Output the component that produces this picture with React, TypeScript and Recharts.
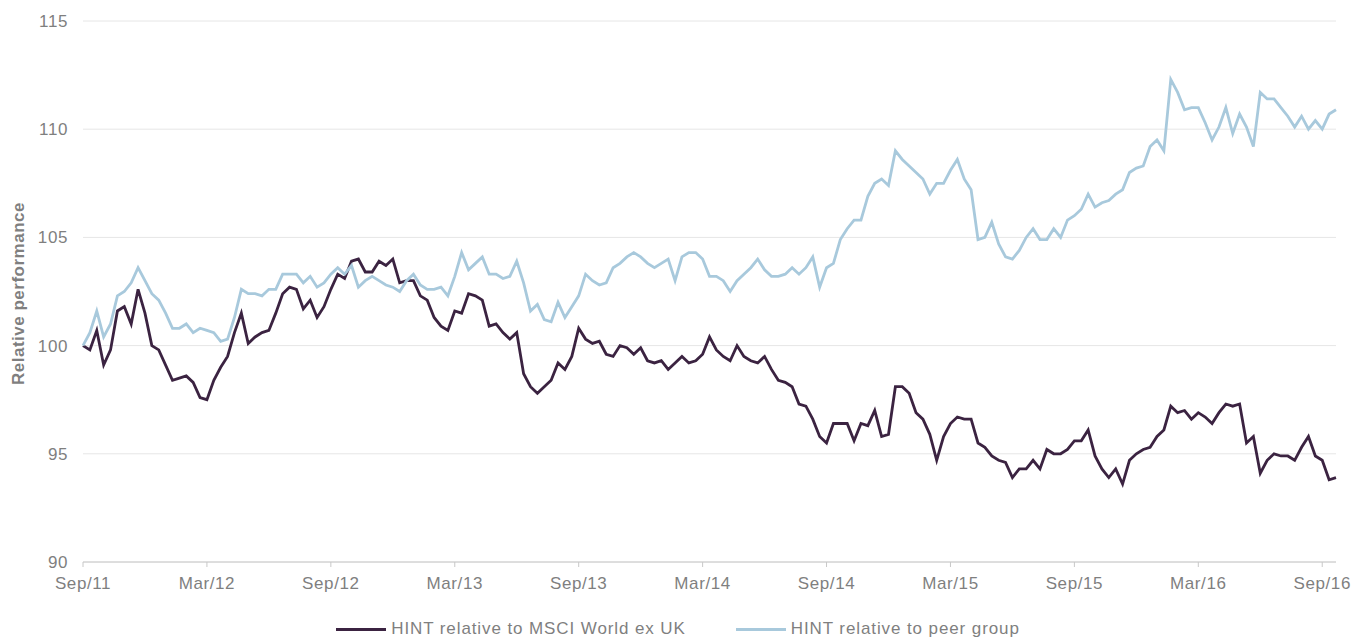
import {
  CartesianGrid,
  Legend,
  Line,
  LineChart,
  XAxis,
  YAxis,
} from "recharts";

// one point every third of a month, Sep/11 onwards
const msciWorld = [
  100.0, 99.8, 100.7, 99.1, 99.8, 101.6, 101.8, 101.0, 102.6, 101.5,
  100.0, 99.8, 99.1, 98.4, 98.5, 98.6, 98.3, 97.6, 97.5, 98.4,
  99.0, 99.5, 100.6, 101.5, 100.1, 100.4, 100.6, 100.7, 101.5, 102.4,
  102.7, 102.6, 101.7, 102.1, 101.3, 101.8, 102.6, 103.3, 103.1, 103.9,
  104.0, 103.4, 103.4, 103.9, 103.7, 104.0, 102.9, 103.0, 103.0, 102.3,
  102.1, 101.3, 100.9, 100.7, 101.6, 101.5, 102.4, 102.3, 102.1, 100.9,
  101.0, 100.6, 100.3, 100.6, 98.7, 98.1, 97.8, 98.1, 98.4, 99.2,
  98.9, 99.5, 100.8, 100.3, 100.1, 100.2, 99.6, 99.5, 100.0, 99.9,
  99.6, 99.9, 99.3, 99.2, 99.3, 98.9, 99.2, 99.5, 99.2, 99.3,
  99.6, 100.4, 99.8, 99.5, 99.3, 100.0, 99.5, 99.3, 99.2, 99.5,
  98.9, 98.4, 98.3, 98.1, 97.3, 97.2, 96.6, 95.8, 95.5, 96.4,
  96.4, 96.4, 95.6, 96.4, 96.3, 97.0, 95.8, 95.9, 98.1, 98.1,
  97.8, 96.9, 96.6, 95.9, 94.7, 95.8, 96.4, 96.7, 96.6, 96.6,
  95.5, 95.3, 94.9, 94.7, 94.6, 93.9, 94.3, 94.3, 94.7, 94.3,
  95.2, 95.0, 95.0, 95.2, 95.6, 95.6, 96.1, 94.9, 94.3, 93.9,
  94.3, 93.6, 94.7, 95.0, 95.2, 95.3, 95.8, 96.1, 97.2, 96.9,
  97.0, 96.6, 96.9, 96.7, 96.4, 96.9, 97.3, 97.2, 97.3, 95.5,
  95.8, 94.1, 94.7, 95.0, 94.9, 94.9, 94.7, 95.3, 95.8, 94.9,
  94.7, 93.8, 93.9,
];

const peerGroup = [
  100.0, 100.6, 101.6, 100.4, 101.0, 102.3, 102.5, 102.9, 103.6, 103.0,
  102.4, 102.1, 101.5, 100.8, 100.8, 101.0, 100.6, 100.8, 100.7, 100.6,
  100.2, 100.3, 101.3, 102.6, 102.4, 102.4, 102.3, 102.6, 102.6, 103.3,
  103.3, 103.3, 102.9, 103.2, 102.7, 102.9, 103.3, 103.6, 103.3, 103.7,
  102.7, 103.0, 103.2, 103.0, 102.8, 102.7, 102.5, 103.0, 103.3, 102.8,
  102.6, 102.6, 102.7, 102.3, 103.2, 104.3, 103.5, 103.8, 104.1, 103.3,
  103.3, 103.1, 103.2, 103.9, 102.9, 101.6, 101.9, 101.2, 101.1, 102.0,
  101.3, 101.8, 102.3, 103.3, 103.0, 102.8, 102.9, 103.6, 103.8, 104.1,
  104.3, 104.1, 103.8, 103.6, 103.8, 104.0, 103.0, 104.1, 104.3, 104.3,
  104.0, 103.2, 103.2, 103.0, 102.5, 103.0, 103.3, 103.6, 104.0, 103.5,
  103.2, 103.2, 103.3, 103.6, 103.3, 103.6, 104.1, 102.7, 103.6, 103.8,
  104.9, 105.4, 105.8, 105.8, 106.9, 107.5, 107.7, 107.4, 109.0, 108.6,
  108.3, 108.0, 107.7, 107.0, 107.5, 107.5, 108.1, 108.6, 107.7, 107.2,
  104.9, 105.0, 105.7, 104.7, 104.1, 104.0, 104.4, 105.0, 105.4, 104.9,
  104.9, 105.4, 105.0, 105.8, 106.0, 106.3, 107.0, 106.4, 106.6, 106.7,
  107.0, 107.2, 108.0, 108.2, 108.3, 109.2, 109.5, 109.0, 112.3, 111.7,
  110.9, 111.0, 111.0, 110.3, 109.5, 110.1, 111.0, 109.8, 110.7, 110.1,
  109.2, 111.7, 111.4, 111.4, 111.0, 110.6, 110.1, 110.6, 110.0, 110.4,
  110.0, 110.7, 110.9,
];

const xTickLabels = [
  "Sep/11", "Mar/12", "Sep/12", "Mar/13", "Sep/13", "Mar/14",
  "Sep/14", "Mar/15", "Sep/15", "Mar/16", "Sep/16",
];
const yTicks = [90, 95, 100, 105, 110, 115];

const seriesNames = ["HINT relative to MSCI World ex UK", "HINT relative to peer group"];
const seriesColors = ["#3b2341", "#a8c9dc"];

const POINTS_PER_TICK = 18;
const data = msciWorld.map((v, i) => ({ t: i, msci: v, peer: peerGroup[i] }));
const xTicks = xTickLabels.map((_, i) => i * POINTS_PER_TICK);

const FONT = "'Liberation Sans', Arial, sans-serif";
const GREY = "#7f7f7f";

const renderLegend = () => (
  <div
    style={{
      display: "flex",
      justifyContent: "center",
      alignItems: "center",
      height: 18,
      fontFamily: FONT,
      fontSize: 17,
      letterSpacing: 0.9,
      color: GREY,
      paddingLeft: 20,
    }}
  >
    {seriesNames.map((name, i) => (
      <div key={name} style={{ display: "flex", alignItems: "center", marginRight: i === 0 ? 50 : 0 }}>
        <span style={{ display: "inline-block", width: 50, height: 3, background: seriesColors[i], marginRight: 5 }} />
        <span style={{ whiteSpace: "nowrap" }}>{name}</span>
      </div>
    ))}
  </div>
);

const YLabel = (props: { viewBox?: { x: number; y: number; width: number; height: number } }) => {
  const vb = props.viewBox;
  if (!vb) return null;
  const cx = vb.x + 18;
  const cy = vb.y + vb.height / 2 + 2;
  return (
    <text
      x={cx}
      y={cy}
      transform={`rotate(-90 ${cx} ${cy})`}
      textAnchor="middle"
      dominantBaseline="central"
      fill={GREY}
      fontFamily={FONT}
      fontSize={17}
      fontWeight="bold"
      letterSpacing={0.5}
    >
      Relative performance
    </text>
  );
};

export default function App() {
  return (
    <div style={{ position: "absolute", left: 0, top: 0, background: "#fff" }}>
      <LineChart
        width={1351}
        height={638}
        data={data}
        margin={{ top: 21, right: 15, bottom: 0, left: 0 }}
      >
        <CartesianGrid vertical={false} stroke="#e6e6e6" />
        <XAxis
          dataKey="t"
          type="number"
          domain={[0, msciWorld.length - 1]}
          ticks={xTicks}
          tickFormatter={(v) => xTickLabels[Math.round(v / POINTS_PER_TICK)]}
          stroke="#c8c8c8"
          tickSize={5}
          tickMargin={10}
          height={58}
          tick={{ fill: GREY, fontSize: 17, fontFamily: FONT, letterSpacing: 0.6 }}
        />
        <YAxis
          domain={[90, 115]}
          ticks={yTicks}
          axisLine={false}
          tickLine={false}
          width={83}
          tickSize={6}
          tickMargin={9}
          tick={{ fill: GREY, fontSize: 17, fontFamily: FONT, letterSpacing: 0.6 }}
          label={<YLabel />}
        />
        <Legend verticalAlign="bottom" content={renderLegend} />
        <Line
          type="linear"
          dataKey="msci"
          name={seriesNames[0]}
          stroke={seriesColors[0]}
          strokeWidth={2.8}
          dot={false}
          isAnimationActive={false}
        />
        <Line
          type="linear"
          dataKey="peer"
          name={seriesNames[1]}
          stroke={seriesColors[1]}
          strokeWidth={2.8}
          dot={false}
          isAnimationActive={false}
        />
      </LineChart>
    </div>
  );
}
